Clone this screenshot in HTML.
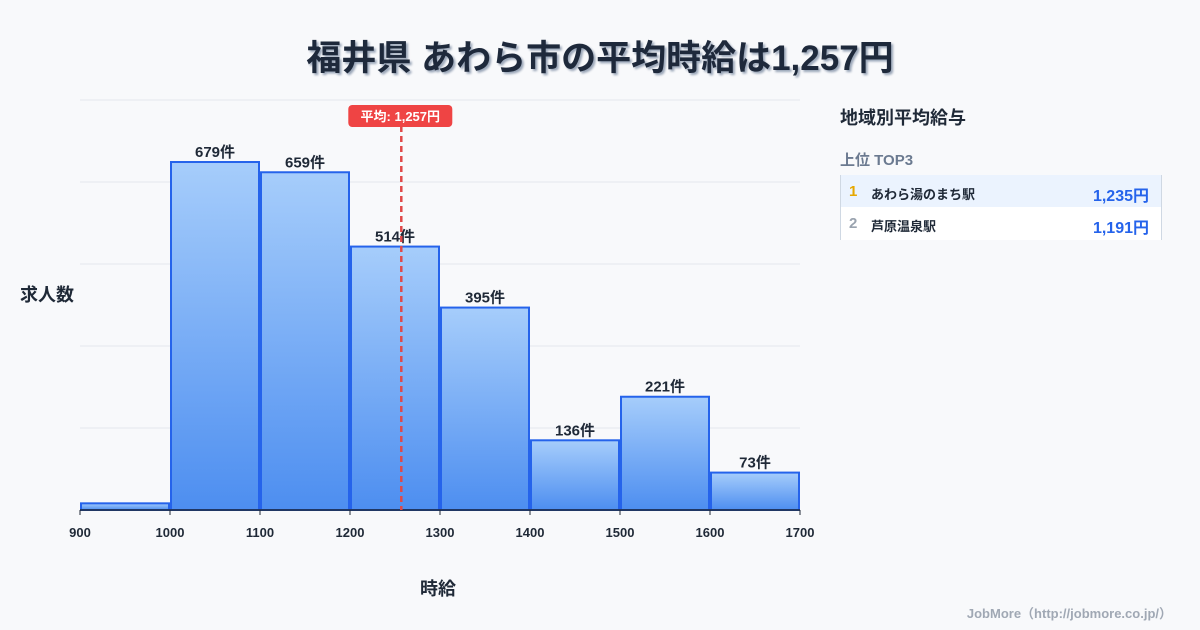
<!DOCTYPE html>
<html><head><meta charset="utf-8"><style>
body{margin:0;width:1200px;height:630px;background:#f8f9fb;font-family:"Liberation Sans","Noto Sans CJK JP",sans-serif;overflow:hidden;position:relative}
.t{position:absolute;color:#1f2937}
</style></head><body>
<div class="t" style="left:0;width:1200px;top:30px;text-align:center;font-size:35px;font-weight:bold;color:#1e293b;text-shadow:2px 2px 2px #9aa6b8">福井県 あわら市の平均時給は1,257円</div>
<svg id="c" width="1200" height="630" style="position:absolute;left:0;top:0">
<defs><linearGradient id="g" x1="0" y1="0" x2="0" y2="1"><stop offset="0" stop-color="#a6cdfb"/><stop offset="1" stop-color="#4d8ef0"/></linearGradient></defs>
</svg>
<div class="t" style="left:20px;top:281px;font-size:18px;font-weight:bold">求人数</div>
<div class="t" style="left:420px;top:575px;font-size:18px;font-weight:bold">時給</div>
<div class="t" style="left:840px;top:104px;font-size:18px;font-weight:bold">地域別平均給与</div>
<div class="t" style="left:840px;top:149px;font-size:15px;font-weight:bold;color:#6b7a90">上位 TOP3</div>
<div style="position:absolute;left:840px;top:175px;width:320px;height:65px;border-left:1px solid #cfd8e3;border-right:1px solid #cfd8e3">
<div style="height:32px;background:#ebf3fe;position:relative;font-size:13px;font-weight:bold">
<span style="position:absolute;left:8px;top:8px;color:#e6a700;font-size:15px">1</span>
<span style="position:absolute;left:30px;top:9px;color:#1f2937">あわら湯のまち駅</span>
<span style="position:absolute;right:12px;top:7px;color:#2563eb;font-size:16px">1,235円</span></div>
<div style="height:33px;background:#fff;position:relative;font-size:13px;font-weight:bold">
<span style="position:absolute;left:8px;top:8px;color:#9aa3af;font-size:15px">2</span>
<span style="position:absolute;left:30px;top:9px;color:#1f2937">芦原温泉駅</span>
<span style="position:absolute;right:12px;top:7px;color:#2563eb;font-size:16px">1,191円</span></div>
</div>
<div class="t" style="right:28px;top:603px;font-size:13px;font-weight:bold;color:#a0a8b4">JobMore（http://jobmore.co.jp/）</div>
<script>
const binStarts=[900,1000,1100,1200,1300,1400,1500,1600];
const counts=[13,679,659,514,395,136,221,73];
const showLabel=[false,true,true,true,true,true,true,true];
const xTicks=[900,1000,1100,1200,1300,1400,1500,1600,1700];
const meanWage=1257;
const yMax=800, yStep=160;
const NS='http://www.w3.org/2000/svg';
const svg=document.getElementById('c');
const x=v=>80+(v-900)*0.9;
const y=v=>510-v*410/yMax;
function mk(t,a,txt){const e=document.createElementNS(NS,t);for(const k in a)e.setAttribute(k,a[k]);if(txt!==undefined)e.textContent=txt;svg.appendChild(e);return e;}
for(let v=0;v<=yMax;v+=yStep){const l=mk('line',{x1:80,x2:800,y1:y(v),y2:y(v),stroke:'#e3e7ee','stroke-width':1});

}
binStarts.forEach((b,i)=>{
const r=mk('rect',{x:x(b)+1,y:y(counts[i]),width:x(b+100)-x(b)-2,height:y(0)-y(counts[i]),fill:'url(#g)',stroke:'#2563eb','stroke-width':2});


if(showLabel[i]){const t=mk('text',{x:(x(b)+x(b+100))/2,y:y(counts[i])-5,'text-anchor':'middle','font-size':15,'font-weight':'bold',fill:'#1f2937'},counts[i]+'件');

}
});
const ax=mk('line',{x1:80,x2:800,y1:510,y2:510,stroke:'#1f2937','stroke-width':1.5});


xTicks.forEach(v=>{mk('line',{x1:x(v),x2:x(v),y1:510,y2:515,stroke:'#1f2937'});
const t=mk('text',{x:x(v),y:537,'text-anchor':'middle','font-size':13,'font-weight':'bold',fill:'#1f2937'},v);

});
const mx=x(meanWage);
const ml=mk('line',{x1:mx,x2:mx,y1:126,y2:510,stroke:'#e04848','stroke-width':2.5,'stroke-dasharray':'6,4'});


const mb=mk('rect',{x:mx-53,y:105,width:104,height:22,rx:4,fill:'#ef4444'});


const mt=mk('text',{x:mx-1,y:121,'text-anchor':'middle','font-size':13,'font-weight':'bold',fill:'#fff'},'平均: 1,257円');


</script>
</body></html>
